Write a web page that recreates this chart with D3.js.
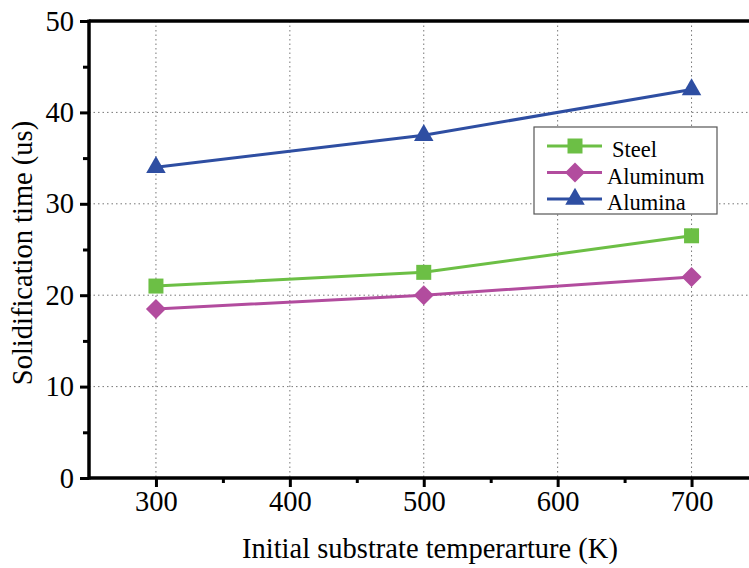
<!DOCTYPE html>
<html><head><meta charset="utf-8">
<script src="https://cdn.jsdelivr.net/npm/d3@7"></script>
<style>body{margin:0;background:#fff}svg{display:block}svg text{font-family:"Liberation Serif","Times New Roman",serif;fill:#000}</style>
</head><body>
<script>
const temps = [300, 500, 700];
const steel = [21, 22.5, 26.5];
const aluminum = [18.5, 20, 22];
const alumina = [34, 37.5, 42.5];
const seriesNames = ["Steel", "Aluminum", "Alumina"];
const xTicks = [300, 400, 500, 600, 700];
const yTicks = [0, 10, 20, 30, 40, 50];

const W = 749, H = 568;
const serif = '"Liberation Serif","Times New Roman",serif';
const svg = d3.select("body").append("svg").attr("width", W).attr("height", H);
const x = d3.scaleLinear().domain([250, 750]).range([89, 758.5]);
const y = d3.scaleLinear().domain([0, 50]).range([478, 21]);

// grid
const grid = svg.append("g").attr("stroke", "#777").attr("stroke-width", 1).attr("stroke-dasharray", "1.5,3");
grid.selectAll(".gx").data(xTicks).join("line")
  .attr("x1", d => x(d)).attr("x2", d => x(d)).attr("y1", y(50)).attr("y2", y(0));
grid.selectAll(".gy").data(yTicks.filter(d => d > 0 && d < 50)).join("line")
  .attr("x1", x(250)).attr("x2", W).attr("y1", d => y(d)).attr("y2", d => y(d));

// axes
const xAxis = svg.append("g").attr("transform", `translate(0,${y(0)})`)
  .call(d3.axisBottom(x).tickValues(xTicks).tickSize(9).tickPadding(4).tickFormat(d3.format("d")));
const xMinor = svg.append("g").attr("transform", `translate(0,${y(0)})`)
  .call(d3.axisBottom(x).tickValues([350, 450, 550, 650]).tickSize(5).tickFormat(""));
const yAxis = svg.append("g").attr("transform", `translate(${x(250)},0)`)
  .call(d3.axisLeft(y).tickValues(yTicks).tickSize(9).tickPadding(6).tickFormat(d3.format("d")));
const yMinor = svg.append("g").attr("transform", `translate(${x(250)},0)`)
  .call(d3.axisLeft(y).tickValues([5, 15, 25, 35, 45]).tickSize(6).tickFormat(""));
[xAxis, xMinor, yAxis, yMinor].forEach(g => {
  g.attr("font-family", serif).attr("font-size", 28.5);
  g.select(".domain").remove();
  g.selectAll(".tick line").attr("stroke", "#000").attr("stroke-width", 3);
  g.selectAll(".tick text").style("font-family", serif).style("font-size", "28.5px").style("font-weight", "normal");
});
// axis lines
svg.append("line").attr("x1", x(250)).attr("x2", W).attr("y1", y(0)).attr("y2", y(0)).attr("stroke", "#000").attr("stroke-width", 3.5);
svg.append("line").attr("x1", x(250)).attr("x2", W).attr("y1", y(50)).attr("y2", y(50)).attr("stroke", "#000").attr("stroke-width", 3.5);
svg.append("line").attr("x1", x(250)).attr("x2", x(250)).attr("y1", y(50) - 1.5).attr("y2", y(0) + 1.5).attr("stroke", "#000").attr("stroke-width", 3.5);

// titles
svg.append("text").attr("x", 430).attr("y", 558).attr("text-anchor", "middle")
  .style("font-size", "28.5px").text("Initial substrate temperarture (K)");
svg.append("text").attr("transform", "translate(32,253) rotate(-90)").attr("text-anchor", "middle")
  .style("font-size", "28.5px").text("Solidification time (us)");

const series = [
  {name: seriesNames[0], vals: steel, color: "#6cbf45", sym: d3.symbol().type(d3.symbolSquare).size(225), rot: 0},
  {name: seriesNames[1], vals: aluminum, color: "#b24c9e", sym: d3.symbol().type(d3.symbolSquare).size(200), rot: 45},
  {name: seriesNames[2], vals: alumina, color: "#2e4ea2", sym: d3.symbol().type(d3.symbolTriangle).size(165), rot: 0}
];
const line = d3.line().x(d => x(d[0])).y(d => y(d[1]));
series.forEach(s => {
  const pts = temps.map((t, i) => [t, s.vals[i]]);
  svg.append("path").attr("d", line(pts)).attr("fill", "none").attr("stroke", s.color).attr("stroke-width", 3);
  svg.selectAll(null).data(pts).join("path")
    .attr("d", s.sym)
    .attr("transform", d => `translate(${x(d[0])},${y(d[1])}) rotate(${s.rot})`)
    .attr("fill", s.color);
});

// legend
const lg = svg.append("g");
lg.append("rect").attr("x", 534).attr("y", 127).attr("width", 183).attr("height", 87)
  .attr("fill", "#fff").attr("stroke", "#555").attr("stroke-width", 1.2);
series.forEach((s, i) => {
  const ly = 146 + i * 26.5;
  lg.append("line").attr("x1", 547).attr("x2", 602).attr("y1", ly).attr("y2", ly).attr("stroke", s.color).attr("stroke-width", 3);
  lg.append("path").attr("d", s.sym).attr("transform", `translate(575,${ly}) rotate(${s.rot})`).attr("fill", s.color);
  lg.append("text").attr("x", i === 0 ? 612 : 607).attr("y", ly + 11).style("font-size", "22.5px").text(s.name);
});
</script>
</body></html>
